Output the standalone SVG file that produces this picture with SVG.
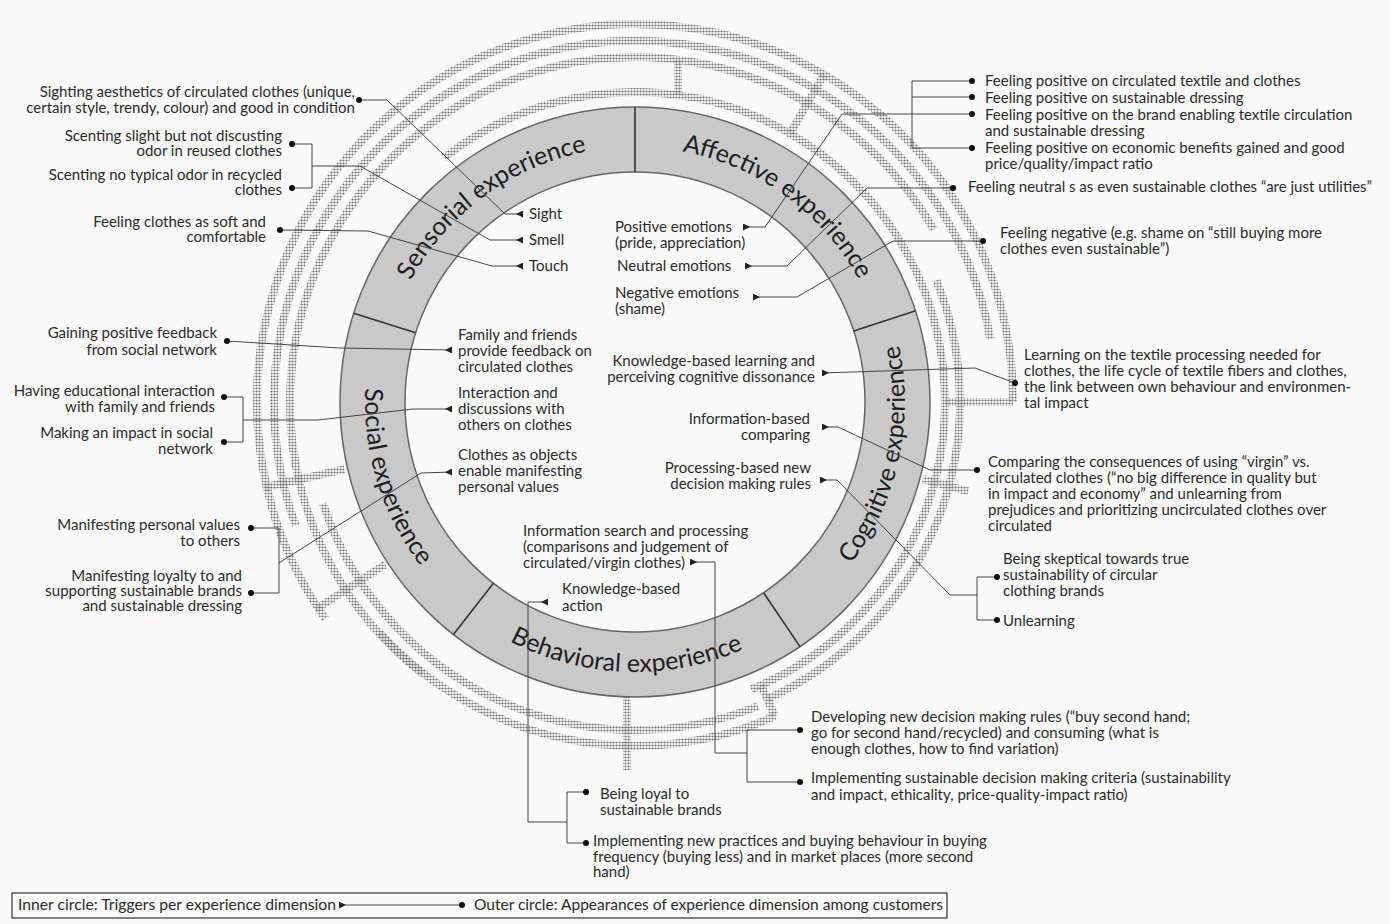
<svg xmlns="http://www.w3.org/2000/svg" width="1390" height="924" viewBox="0 0 1390 924">
<defs>
<style>
.t{font-family:Lato,"Liberation Sans",sans-serif;font-size:15px;fill:#2a2a2a}
.e{text-anchor:end}
.lab{font-family:Lato,"Liberation Sans",sans-serif;font-size:25px;fill:#1e1e1e}
.c{fill:none;stroke:#444;stroke-width:1}
.dt{fill:none;stroke:url(#dots);stroke-width:8}
</style>
<pattern id="dots" width="3" height="3" patternUnits="userSpaceOnUse"><circle cx="1.5" cy="1.5" r="1.1" fill="#707070"/></pattern>
<marker id="tri" viewBox="0 0 7 7" refX="0" refY="3.5" markerWidth="7" markerHeight="7" markerUnits="userSpaceOnUse" orient="auto"><path d="M0,0 L7,3.5 L0,7 z" fill="#222"/></marker>
<marker id="dot" viewBox="0 0 6 6" refX="3" refY="3" markerWidth="6" markerHeight="6" markerUnits="userSpaceOnUse"><circle cx="3" cy="3" r="3" fill="#111"/></marker>
<path id="pS" d="M391.8,325.3 A255,255 0 0 1 635,147"/>
<path id="pA" d="M635,147 A255,255 0 0 1 877.5,323.2"/>
<path id="pC" d="M786,625.8 A270,270 0 0 0 891.8,318.6"/>
<path id="pB" d="M468.8,614.8 A270,270 0 0 0 786,625.8"/>
<path id="pSo" d="M377.5,320.8 A270,270 0 0 0 468.8,614.8"/>
</defs>
<rect width="1390" height="924" fill="#fafafa"/>

<g id="halftone">
<path class="dt" d="M1013,402 A378,378 0 1 0 325.3,618.8"/>
<path class="dt" d="M990.5,339.3 A361,361 0 1 0 295.8,525.5"/>
<path class="dt" d="M933.8,229.5 A345,345 0 1 0 422.6,673.9"/>
<path class="dt" d="M751.1,689.4 A310,310 0 1 0 444.1,157.7"/>
<path class="dt" d="M767.2,698.9 A325,325 0 0 0 936.3,280.3"/>
<path class="dt" d="M323,503.4 A328,328 0 0 0 757.9,706.1"/>
<path class="dt" d="M379.4,632.2 A344,344 0 0 0 774.9,716.2"/>
<path class="dt" d="M945,402 L1013,402"/>
<path class="dt" d="M344.6,469.1 L264.7,487.5"/>
<path class="dt" d="M385.1,564.3 L316.3,609"/>
<path class="dt" d="M922.8,479.1 L968.2,491.3"/>
<path class="dt" d="M761.1,685.2 L774.9,716.2"/>
<path class="dt" d="M678,60 L678,95"/>
<path class="dt" d="M790,133.5 L824,74.6"/>
<path class="dt" d="M627,697 L627,770"/>
</g>

<g id="ring">
<circle cx="635" cy="402" r="262.5" fill="none" stroke="#c9c9c9" stroke-width="65"/>
<circle cx="635" cy="402" r="295" fill="none" stroke="#666" stroke-width="1.5"/>
<circle cx="635" cy="402" r="230" fill="none" stroke="#666" stroke-width="1.5"/>
<g stroke="#333" stroke-width="1.6">
<line x1="635" y1="172" x2="635" y2="107"/>
<line x1="853.8" y1="330.9" x2="915.6" y2="310.8"/>
<line x1="763.6" y1="592.7" x2="800" y2="646.6"/>
<line x1="493.4" y1="583.2" x2="453.4" y2="634.5"/>
<line x1="415.6" y1="332.8" x2="353.7" y2="313.3"/>
</g>
<text class="lab"><textPath href="#pS" startOffset="50%" text-anchor="middle">Sensorial  experience</textPath></text>
<text class="lab"><textPath href="#pA" startOffset="50%" text-anchor="middle">Affective experience</textPath></text>
<text class="lab"><textPath href="#pC" startOffset="59%" text-anchor="middle">Cognitive  experience</textPath></text>
<text class="lab"><textPath href="#pB" startOffset="50%" text-anchor="middle">Behavioral experience</textPath></text>
<text class="lab"><textPath href="#pSo" startOffset="50%" text-anchor="middle">Social experience</textPath></text>
</g>

<g id="connectors">
<path class="c" d="M523,214 L505,214 L387,100 L359,100" marker-start="url(#tri)" marker-end="url(#dot)"/>
<path class="c" d="M523,240 L490,240 L360,166 L312,166" marker-start="url(#tri)"/>
<path class="c" d="M292,144 L312,144 L312,188 L292,188" marker-start="url(#dot)" marker-end="url(#dot)"/>
<path class="c" d="M523,266 L492,266 L368,231 L280,230" marker-start="url(#tri)" marker-end="url(#dot)"/>

<path class="c" d="M743,227 L765,227 L842,114 L912,114" marker-start="url(#tri)"/>
<path class="c" d="M972,81 L912,81 L912,148 L972,148" marker-start="url(#dot)" marker-end="url(#dot)"/>
<path class="c" d="M912,97 L972,97" marker-end="url(#dot)"/>
<path class="c" d="M912,114 L972,114" marker-end="url(#dot)"/>
<path class="c" d="M745,266 L787,266 L867,188 L953,188" marker-start="url(#tri)" marker-end="url(#dot)"/>
<path class="c" d="M753,297 L797,297 L893,241 L983,241" marker-start="url(#tri)" marker-end="url(#dot)"/>

<path class="c" d="M822,373 L975,368 L1015,383" marker-start="url(#tri)" marker-end="url(#dot)"/>
<path class="c" d="M822,427 L838,427 L930,470 L977,470" marker-start="url(#tri)" marker-end="url(#dot)"/>
<path class="c" d="M820,480 L837,480 L950,595 L977,595" marker-start="url(#tri)"/>
<path class="c" d="M997,577 L977,577 L977,620 L997,620" marker-start="url(#dot)" marker-end="url(#dot)"/>

<path class="c" d="M690,562 L715,562 L715,753 L747,753" marker-start="url(#tri)"/>
<path class="c" d="M800,730 L747,730 L747,782 L800,782" marker-start="url(#dot)" marker-end="url(#dot)"/>
<path class="c" d="M548,602 L528,602 L528,822 L567,822" marker-start="url(#tri)"/>
<path class="c" d="M586,792 L567,792 L567,843 L586,843" marker-start="url(#dot)" marker-end="url(#dot)"/>

<path class="c" d="M452,350 L340,348 L227,341" marker-start="url(#tri)" marker-end="url(#dot)"/>
<path class="c" d="M452,409 L413,409 L318,420 L243,420" marker-start="url(#tri)"/>
<path class="c" d="M224,397 L243,397 L243,442 L224,442" marker-start="url(#dot)" marker-end="url(#dot)"/>
<path class="c" d="M452,472 L421,473 L279,563" marker-start="url(#tri)"/>
<path class="c" d="M251,528 L279,528 L279,593 L251,593" marker-start="url(#dot)" marker-end="url(#dot)"/>
</g>

<g id="sensorial">
<text class="t e" x="355" y="97">Sighting aesthetics of circulated clothes (unique,<tspan x="355" dy="16">certain style, trendy, colour) and good in condition</tspan></text>
<text class="t e" x="282" y="141">Scenting slight but not discusting<tspan x="282" dy="15">odor in reused clothes</tspan></text>
<text class="t e" x="282" y="180">Scenting no typical odor in recycled<tspan x="282" dy="15">clothes</tspan></text>
<text class="t e" x="266" y="227">Feeling clothes as soft and<tspan x="266" dy="15">comfortable</tspan></text>
<text class="t" x="529" y="219">Sight</text>
<text class="t" x="529" y="245">Smell</text>
<text class="t" x="529" y="271">Touch</text>
</g>

<g id="affective">
<text class="t" x="615" y="232">Positive emotions<tspan x="615" dy="16">(pride, appreciation)</tspan></text>
<text class="t" x="617" y="271">Neutral emotions</text>
<text class="t" x="615" y="298">Negative emotions<tspan x="615" dy="16">(shame)</tspan></text>
<text class="t" x="985" y="86">Feeling positive on circulated textile and clothes</text>
<text class="t" x="985" y="103">Feeling positive on sustainable dressing</text>
<text class="t" x="985" y="120">Feeling positive on the brand enabling textile circulation<tspan x="985" dy="16">and sustainable dressing</tspan></text>
<text class="t" x="985" y="153">Feeling positive on economic benefits gained and good<tspan x="985" dy="16">price/quality/impact ratio</tspan></text>
<text class="t" x="968" y="192">Feeling neutral s as even sustainable clothes “are just utilities”</text>
<text class="t" x="1000" y="238">Feeling negative (e.g. shame on “still buying more<tspan x="1000" dy="16">clothes even sustainable”)</tspan></text>
</g>

<g id="cognitive">
<text class="t e" x="815" y="366">Knowledge-based learning and<tspan x="815" dy="16">perceiving cognitive dissonance</tspan></text>
<text class="t e" x="810" y="424">Information-based<tspan x="810" dy="16">comparing</tspan></text>
<text class="t e" x="811" y="473">Processing-based new<tspan x="811" dy="16">decision making rules</tspan></text>
<text class="t" x="1024" y="360">Learning on the textile processing needed for<tspan x="1024" dy="16">clothes, the life cycle of textile fibers and clothes,</tspan><tspan x="1024" dy="16">the link between own behaviour and environmen-</tspan><tspan x="1024" dy="16">tal impact</tspan></text>
<text class="t" x="988" y="467">Comparing the consequences of using “virgin” vs.<tspan x="988" dy="16">circulated clothes (“no big difference in quality but</tspan><tspan x="988" dy="16">in impact and economy” and unlearning from</tspan><tspan x="988" dy="16">prejudices and prioritizing uncirculated clothes over</tspan><tspan x="988" dy="16">circulated</tspan></text>
<text class="t" x="1003" y="564">Being skeptical towards true<tspan x="1003" dy="16">sustainability of circular</tspan><tspan x="1003" dy="16">clothing brands</tspan></text>
<text class="t" x="1003" y="626">Unlearning</text>
</g>

<g id="behavioral">
<text class="t" x="523" y="536">Information search and processing<tspan x="523" dy="16">(comparisons and judgement of</tspan><tspan x="523" dy="16">circulated/virgin clothes)</tspan></text>
<text class="t" x="562" y="594">Knowledge-based<tspan x="562" dy="17">action</tspan></text>
<text class="t" x="811" y="722">Developing new decision making rules (“buy second hand;<tspan x="811" dy="16">go for second hand/recycled) and consuming (what is</tspan><tspan x="811" dy="16">enough clothes, how to find variation)</tspan></text>
<text class="t" x="811" y="783">Implementing sustainable decision making criteria (sustainability<tspan x="811" dy="17">and impact, ethicality, price-quality-impact ratio)</tspan></text>
<text class="t" x="600" y="799">Being loyal to<tspan x="600" dy="16">sustainable brands</tspan></text>
<text class="t" x="593" y="846">Implementing new practices and buying behaviour in buying<tspan x="593" dy="16">frequency (buying less) and in market places (more second</tspan><tspan x="593" dy="15">hand)</tspan></text>
</g>

<g id="social">
<text class="t" x="458" y="340">Family and friends<tspan x="458" dy="16">provide feedback on</tspan><tspan x="458" dy="16">circulated clothes</tspan></text>
<text class="t" x="458" y="398">Interaction and<tspan x="458" dy="16">discussions with</tspan><tspan x="458" dy="16">others on clothes</tspan></text>
<text class="t" x="458" y="460">Clothes as objects<tspan x="458" dy="16">enable manifesting</tspan><tspan x="458" dy="16">personal values</tspan></text>
<text class="t e" x="217" y="338">Gaining positive feedback<tspan x="217" dy="17">from social network</tspan></text>
<text class="t e" x="215" y="396">Having educational interaction<tspan x="215" dy="16">with family and friends</tspan></text>
<text class="t e" x="213" y="438">Making an impact in social<tspan x="213" dy="16">network</tspan></text>
<text class="t e" x="240" y="530">Manifesting personal values<tspan x="240" dy="16">to others</tspan></text>
<text class="t e" x="242" y="581">Manifesting loyalty to and<tspan x="242" dy="15">supporting sustainable brands</tspan><tspan x="242" dy="15">and sustainable dressing</tspan></text>
</g>

<g id="legend">
<rect x="12" y="893" width="935" height="25" fill="#fafafa" stroke="#333" stroke-width="1.2"/>
<text class="t" x="18" y="910" textLength="318" lengthAdjust="spacingAndGlyphs">Inner circle: Triggers per experience dimension</text>
<path class="c" d="M339,905 L462,905" marker-start="url(#tri)" marker-end="url(#dot)"/>
<text class="t" x="474" y="910" textLength="469" lengthAdjust="spacingAndGlyphs">Outer circle: Appearances of experience dimension among customers</text>
</g>
</svg>
